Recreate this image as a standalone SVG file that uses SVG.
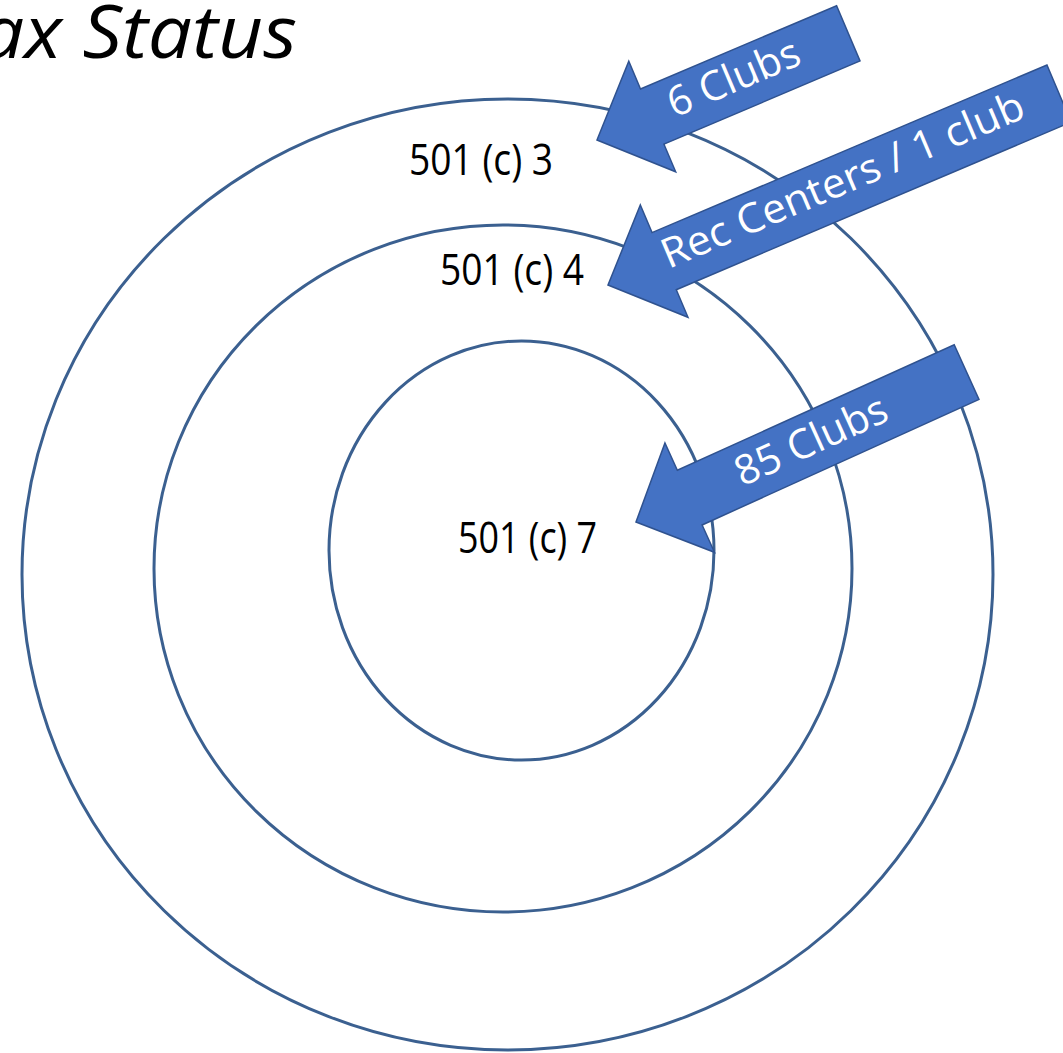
<svg xmlns="http://www.w3.org/2000/svg" width="1063" height="1053" viewBox="0 0 1063 1053">
<style>
.ring{fill:none;stroke:#3B6090;stroke-width:3}
.lbl{font-family:"Open Sans","Liberation Sans",sans-serif;font-size:44px;fill:#000}
.arr{fill:#4472C4;stroke:#2F528F;stroke-width:1.5}
.atx{font-family:"Open Sans","Liberation Sans",sans-serif;font-size:41px;fill:#fff;text-anchor:middle}
.title{font-family:"Open Sans","Liberation Sans",sans-serif;font-style:italic;font-size:74px;fill:#000}
</style>
<rect width="1063" height="1053" fill="#fff"/>
<text class="title" x="-20" y="58" textLength="317" lengthAdjust="spacingAndGlyphs">ax Status</text>
<g id="ring-c3">
<ellipse class="ring" cx="507.5" cy="574.5" rx="485.5" ry="475.5"/>
<text class="lbl" x="409" y="175" textLength="144" lengthAdjust="spacingAndGlyphs">501 (c) 3</text>
</g>
<g id="ring-c4">
<ellipse class="ring" cx="503" cy="568.5" rx="349" ry="343.5"/>
<text class="lbl" x="440" y="285" textLength="144" lengthAdjust="spacingAndGlyphs">501 (c) 4</text>
</g>
<g id="ring-c7">
<ellipse class="ring" cx="521.5" cy="550.5" rx="192.5" ry="209.5"/>
<text class="lbl" x="458" y="553" textLength="139" lengthAdjust="spacingAndGlyphs">501 (c) 7</text>
</g>
<g id="connectors">
<g id="arrow-6-clubs" transform="translate(597,140) rotate(-23)">
<path class="arr" d="M0,0 L60,-60 L60,-30 L273,-30 L273,30 L60,30 L60,60 Z"/>
<text class="atx" x="150" y="10" textLength="140" lengthAdjust="spacingAndGlyphs">6 Clubs</text>
</g>
<g id="arrow-rec-centers" transform="translate(608,285) rotate(-23)">
<path class="arr" d="M0,0 L61,-61 L61,-31 L490,-31 L490,31 L61,31 L61,61 Z"/>
<text class="atx" x="257" y="9" textLength="390" lengthAdjust="spacingAndGlyphs">Rec Centers / 1 club</text>
</g>
<g id="arrow-85-clubs" transform="translate(636,522) rotate(-24.4)">
<path class="arr" d="M0,0 L59,-60 L59,-30 L363,-30 L363,30 L59,30 L59,60 Z"/>
<text class="atx" x="193" y="12" textLength="163" lengthAdjust="spacingAndGlyphs">85 Clubs</text>
</g>
</g>
</svg>
